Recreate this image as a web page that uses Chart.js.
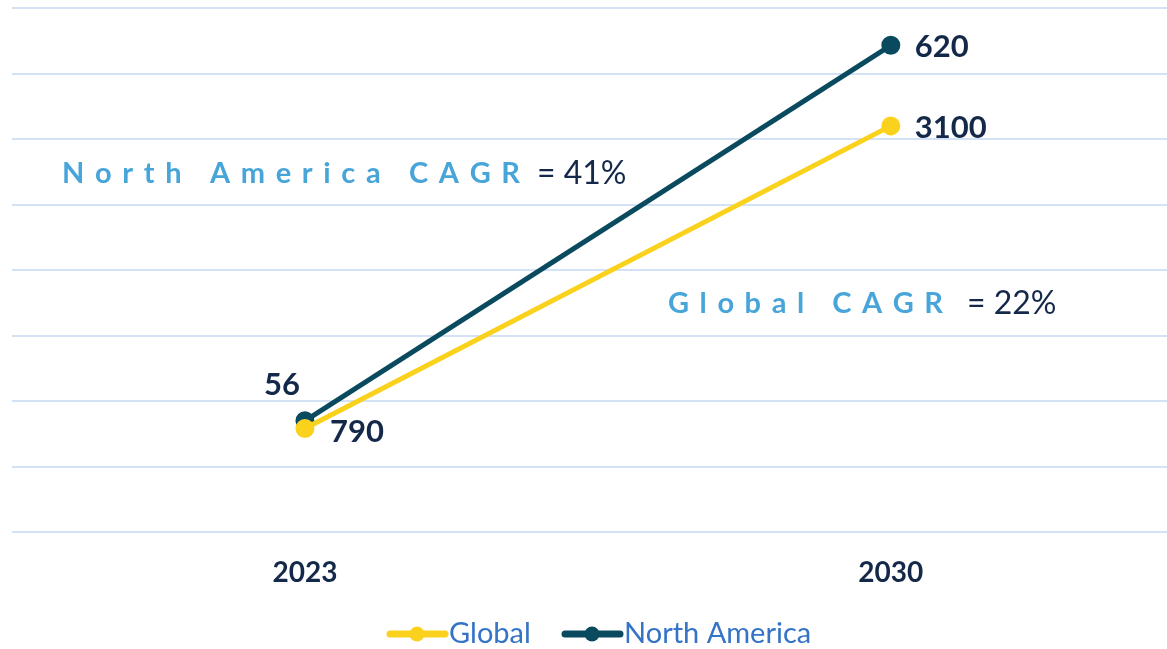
<!DOCTYPE html>
<html>
<head>
<meta charset="utf-8">
<script src="https://cdn.jsdelivr.net/npm/chart.js@4/dist/chart.umd.min.js"></script>
<style>
  html, body { margin: 0; padding: 0; background: #fff; overflow: hidden; }
  #wrap { width: 1167px; height: 649px; }
</style>
</head>
<body>
<div id="wrap"><canvas id="c" width="1167" height="649"></canvas></div>
<script>
// data
const years = [2023, 2030];
const globalValues = [790, 3100];
const northAmericaValues = [56, 620];
const seriesNames = ['Global', 'North America'];
const cagrNotes = [
    { label: 'North America CAGR', value: '= 41%' },
    { label: 'Global CAGR', value: '= 22%' }
];

const YELLOW = '#fad21e';
const TEAL = '#0a4a5f';
const NAVY = '#14294a';
const GRID = '#d3e2f4';
const CAGR_BLUE = '#48a5d9';
const LEGEND_BLUE = '#3473c6';
const FONT = 'Lato, "Open Sans", sans-serif';

// 標籤偏移 (相對於資料點)
const labelOffsets = [
    [{ dx: 25, dy: 3, align: 'left' }, { dx: 24, dy: 2, align: 'left' }],
    [{ dx: -5, dy: -36, align: 'right' }, { dx: 24, dy: 2, align: 'left' }]
];

function spacedText(ctx, text, x, y, width) {
    // 字距拉開到指定寬度
    const chars = text.split('');
    let plain = 0;
    chars.forEach(ch => plain += ctx.measureText(ch).width);
    const gap = (width - plain) / (chars.length - 1);
    let cx = x;
    chars.forEach(ch => {
        ctx.fillText(ch, cx, y);
        cx += ctx.measureText(ch).width + gap;
    });
}

const overlayPlugin = {
    id: 'overlay',
    afterDatasetsDraw(chart) {
        const ctx = chart.ctx;
        ctx.save();
        ctx.textBaseline = 'middle';

        // data labels
        ctx.fillStyle = NAVY;
        ctx.font = 'bold 31px ' + FONT;
        chart.data.datasets.forEach((ds, di) => {
            const meta = chart.getDatasetMeta(di);
            meta.data.forEach((pt, i) => {
                const o = labelOffsets[di][i];
                ctx.textAlign = o.align;
                ctx.fillText(String(ds.data[i].y), pt.x + o.dx, pt.y + o.dy);
            });
        });

        // CAGR notes
        ctx.textAlign = 'left';
        const spots = [
            { x: 62, w: 458, vx: 537, y: 174 },
            { x: 668, w: 275, vx: 967, y: 304 }
        ];
        cagrNotes.forEach((n, i) => {
            const s = spots[i];
            ctx.font = 'bold 29px ' + FONT;
            ctx.fillStyle = CAGR_BLUE;
            spacedText(ctx, n.label, s.x, s.y, s.w);
            ctx.font = '32px ' + FONT;
            ctx.fillStyle = NAVY;
            ctx.fillText(n.value, s.vx, s.y);
        });

        // legend
        const legendItems = [
            { x: 390, color: YELLOW, text: seriesNames[0] },
            { x: 565, color: TEAL, text: seriesNames[1] }
        ];
        const ly = 634;
        legendItems.forEach(item => {
            ctx.strokeStyle = item.color;
            ctx.lineWidth = 7;
            ctx.lineCap = 'round';
            ctx.beginPath();
            ctx.moveTo(item.x, ly);
            ctx.lineTo(item.x + 55, ly);
            ctx.stroke();
            ctx.fillStyle = item.color;
            ctx.beginPath();
            ctx.arc(item.x + 27, ly, 7.5, 0, Math.PI * 2);
            ctx.fill();
            ctx.fillStyle = LEGEND_BLUE;
            ctx.font = '29px ' + FONT;
            ctx.fillText(item.text, item.x + 59, ly);
        });
        ctx.restore();
    }
};

new Chart(document.getElementById('c'), {
    type: 'line',
    data: {
        datasets: [
            {
                label: seriesNames[0],
                data: years.map((yr, i) => ({ x: yr, y: globalValues[i] })),
                borderColor: YELLOW,
                backgroundColor: YELLOW,
                borderWidth: 5,
                pointRadius: 7,
                pointHoverRadius: 7,
                yAxisID: 'y'
            },
            {
                label: seriesNames[1],
                data: years.map((yr, i) => ({ x: yr, y: northAmericaValues[i] })),
                borderColor: TEAL,
                backgroundColor: TEAL,
                borderWidth: 5,
                pointRadius: 7,
                pointHoverRadius: 7,
                yAxisID: 'y1'
            }
        ]
    },
    options: {
        responsive: false,
        animation: false,
        layout: { autoPadding: false, padding: { top: 8, left: 0, right: 0, bottom: 0 } },
        plugins: { legend: { display: false }, tooltip: { enabled: false } },
        scales: {
            x: {
                type: 'linear',
                min: 2019.5,
                max: 2033.3,
                afterBuildTicks: scale => { scale.ticks = years.map(v => ({ value: v })); },
                afterFit: scale => { scale.height = 117; },
                grid: { display: false },
                border: { display: false },
                ticks: {
                    padding: 16,
                    color: NAVY,
                    font: { family: FONT, size: 28, weight: 'bold' },
                    callback: v => String(v)
                }
            },
            y: {
                position: 'left',
                min: 0,
                max: 4000,
                ticks: { display: false, stepSize: 500 },
                afterFit: scale => { scale.width = 12; },
                grid: { color: GRID, lineWidth: 2, drawTicks: false },
                border: { display: false }
            },
            y1: {
                position: 'right',
                display: false,
                min: -111,
                max: 676
            }
        }
    },
    plugins: [overlayPlugin]
});
</script>
</body>
</html>
